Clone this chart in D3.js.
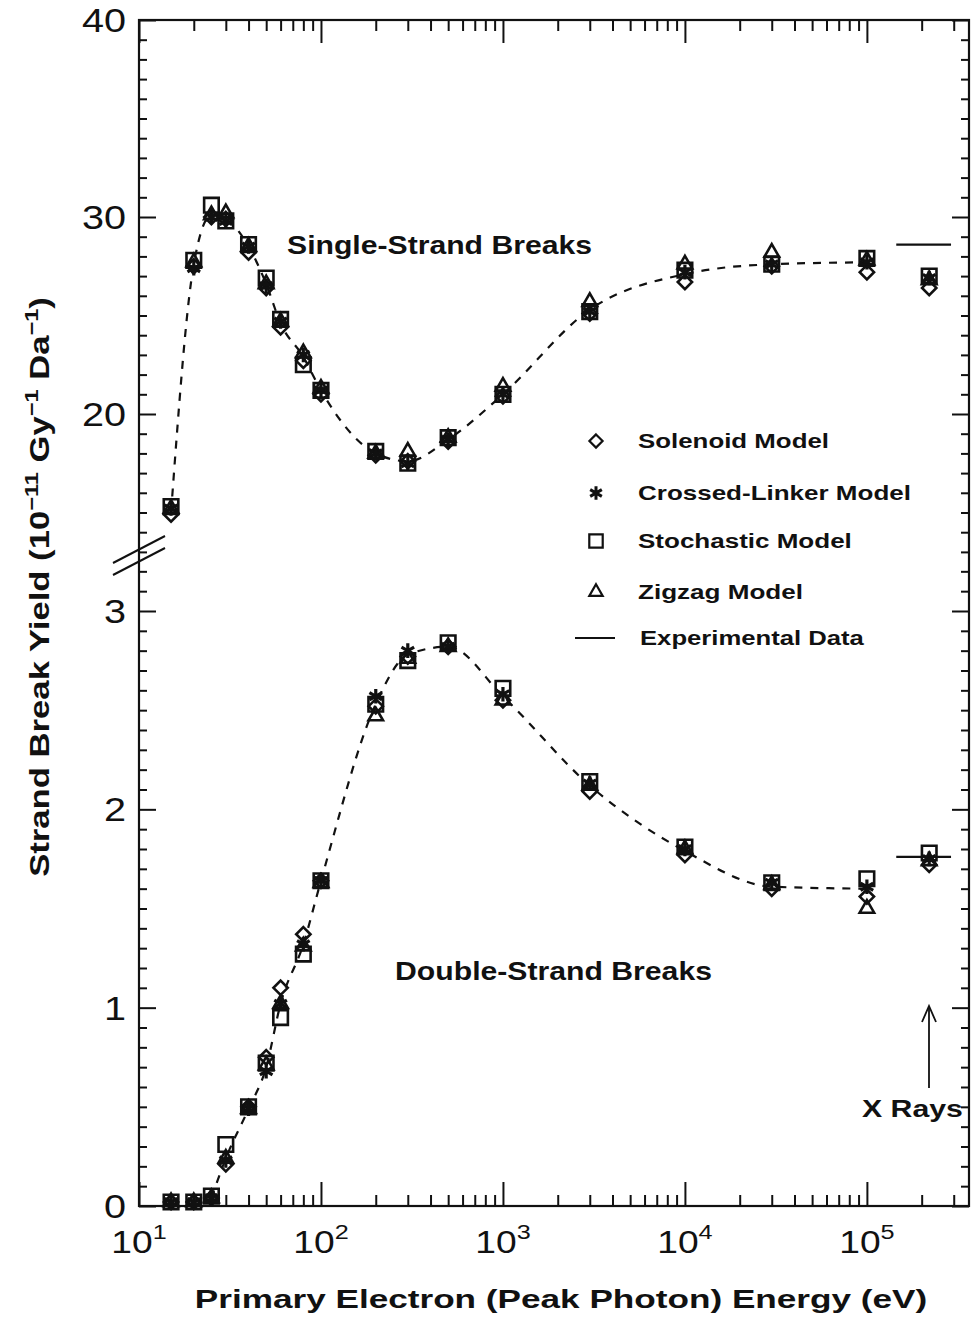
<!DOCTYPE html>
<html>
<head>
<meta charset="utf-8">
<script src="https://cdn.jsdelivr.net/npm/d3@7"></script>
<style>
  html, body { margin: 0; padding: 0; background: #fff; }
  svg text { font-family: "Liberation Sans", Arial, Helvetica, sans-serif; fill: #111; }
</style>
</head>
<body>
<div id="diagram"></div>
<script>
// - - - - - - - - - -
// data
const energies = [15, 20, 25, 30, 40, 50, 60, 80, 100, 200, 300, 500, 1000, 3000, 1e4, 3e4, 1e5, 2.2e5];

// single-strand breaks, 10^-11 Gy^-1 Da^-1
const ssbSolenoid   = [14.9, 27.5, 30.0, 29.9, 28.2, 26.4, 24.4, 22.7, 21.0, 17.9, 17.6, 18.6, 20.9, 25.1, 26.7, 27.5, 27.2, 26.4];
const ssbCrossed    = [15.2, 27.4, 30.0, 29.8, 28.5, 26.5, 24.7, 23.0, 21.2, 18.0, 17.5, 18.7, 21.0, 25.2, 27.2, 27.6, 27.7, 26.9];
const ssbStochastic = [15.3, 27.8, 30.6, 29.8, 28.6, 26.9, 24.8, 22.5, 21.2, 18.1, 17.5, 18.8, 21.0, 25.2, 27.3, 27.6, 27.9, 27.0];
const ssbZigzag     = [15.2, 27.7, 30.1, 30.2, 28.5, 26.6, 24.7, 23.1, 21.3, 18.0, 18.1, 18.8, 21.4, 25.7, 27.6, 28.2, 27.8, 26.8];

// double-strand breaks
const dsbSolenoid   = [0.02, 0.02, 0.04, 0.21, 0.50, 0.75, 1.10, 1.37, 1.64, 2.52, 2.77, 2.82, 2.55, 2.09, 1.77, 1.60, 1.56, 1.72];
const dsbCrossed    = [0.02, 0.02, 0.04, 0.23, 0.49, 0.68, 1.02, 1.32, 1.64, 2.57, 2.80, 2.82, 2.58, 2.13, 1.80, 1.63, 1.61, 1.75];
const dsbStochastic = [0.02, 0.02, 0.05, 0.31, 0.50, 0.72, 0.95, 1.27, 1.64, 2.53, 2.75, 2.84, 2.61, 2.14, 1.81, 1.63, 1.65, 1.78];
const dsbZigzag     = [0.02, 0.02, 0.04, 0.24, 0.49, 0.71, 1.02, 1.31, 1.63, 2.47, 2.76, 2.82, 2.55, 2.12, 1.80, 1.62, 1.50, 1.74];

// dashed guide curves
const ssbCurveE = [15, 20, 25, 30, 40, 50, 60, 80, 100, 200, 300, 500, 1000, 3000, 1e4, 3e4, 1e5];
const ssbCurveV = [15.0, 27.6, 30.1, 29.9, 28.5, 26.6, 24.6, 22.9, 21.2, 18.0, 17.6, 18.7, 21.0, 25.3, 27.1, 27.6, 27.7];
const dsbCurveE = [25, 30, 40, 50, 60, 80, 100, 200, 300, 500, 1000, 3000, 1e4, 3e4, 1e5];
const dsbCurveV = [0.04, 0.24, 0.49, 0.70, 1.02, 1.32, 1.64, 2.53, 2.78, 2.82, 2.57, 2.12, 1.79, 1.61, 1.60];

// experimental (x rays)
const expRange = [1.45e5, 2.9e5];
const ssbExp = 28.6;
const dsbExp = 1.76;

const models = ['Solenoid Model', 'Crossed-Linker Model', 'Stochastic Model', 'Zigzag Model'];

// axis ticks
const xMajorTicks = [1e1, 1e2, 1e3, 1e4, 1e5];
const xTickExp = ['1', '2', '3', '4', '5'];
const yUpperMajor = [20, 30, 40];
const yLowerMajor = [0, 1, 2, 3];

!(function () {
  'use strict'
  let
    canvas = { width: 971, height: 1319 },
    plot = { left: 139, right: 969, top: 20, bottom: 1206, mid: 611 },
    svg, xScale, yUpper, yLower, symbolTypes, symbolSizes, stretch;

  svg = d3.select('#diagram').append('svg')
    .attr('width', canvas.width)
    .attr('height', canvas.height);

  xScale = d3.scaleLog().domain([10, 3.64e5]).range([plot.left, plot.right]);
  yUpper = d3.scaleLinear().domain([10, 40]).range([plot.mid, plot.top]);
  yLower = d3.scaleLinear().domain([0, 3]).range([plot.bottom, plot.mid]);

  // the scanned lettering is wider than Arial: stretch a text to a given width
  stretch = function (sel, x, y, width, rot) {
    const s = width / sel.node().getComputedTextLength();
    sel.attr('transform', 'translate(' + x + ',' + y + ')' + (rot ? ' rotate(' + rot + ')' : '') + ' scale(' + s + ',1)');
  };

  // minor log ticks
  let xMinor = [];
  for (let p = 1; p <= 5; p++) {
    for (let k = 2; k <= 9; k++) {
      const v = k * Math.pow(10, p);
      if (v <= xScale.domain()[1]) xMinor.push(v);
    }
  }
  let yUpperMinor = d3.range(13, 41).filter(v => yUpperMajor.indexOf(v) < 0);
  let yLowerMinor = d3.range(0, 33).map(v => v / 10).filter(v => Math.abs(v - Math.round(v)) > 1e-6);

  const noDomain = g => { g.select('.domain').remove(); g.selectAll('text').remove(); g.selectAll('line').attr('stroke', '#111').attr('stroke-width', 2); };

  // bottom / top ticks (pointing inward)
  svg.append('g').attr('transform', 'translate(0,' + plot.bottom + ')')
    .call(d3.axisTop(xScale).tickValues(xMinor).tickSize(11)).call(noDomain);
  svg.append('g').attr('transform', 'translate(0,' + plot.bottom + ')')
    .call(d3.axisTop(xScale).tickValues(xMajorTicks).tickSize(24)).call(noDomain);
  svg.append('g').attr('transform', 'translate(0,' + plot.top + ')')
    .call(d3.axisBottom(xScale).tickValues(xMinor).tickSize(11)).call(noDomain);
  svg.append('g').attr('transform', 'translate(0,' + plot.top + ')')
    .call(d3.axisBottom(xScale).tickValues(xMajorTicks).tickSize(23)).call(noDomain);

  // left / right ticks
  [[d3.axisRight, plot.left], [d3.axisLeft, plot.right]].forEach(function (a) {
    svg.append('g').attr('transform', 'translate(' + a[1] + ',0)')
      .call(a[0](yUpper).tickValues(yUpperMinor).tickSize(8)).call(noDomain);
    svg.append('g').attr('transform', 'translate(' + a[1] + ',0)')
      .call(a[0](yUpper).tickValues(yUpperMajor).tickSize(17)).call(noDomain);
    svg.append('g').attr('transform', 'translate(' + a[1] + ',0)')
      .call(a[0](yLower).tickValues(yLowerMinor).tickSize(8)).call(noDomain);
    svg.append('g').attr('transform', 'translate(' + a[1] + ',0)')
      .call(a[0](yLower).tickValues(yLowerMajor).tickSize(17)).call(noDomain);
  });

  // frame
  svg.append('rect')
    .attr('x', plot.left).attr('y', plot.top)
    .attr('width', plot.right - plot.left).attr('height', plot.bottom - plot.top)
    .attr('fill', 'none').attr('stroke', '#111').attr('stroke-width', 2.2);

  // axis break marks
  [0, 12].forEach(function (d) {
    svg.append('line')
      .attr('x1', 113).attr('y1', 563 + d).attr('x2', 165).attr('y2', 536 + d)
      .attr('stroke', '#111').attr('stroke-width', 2);
  });

  // tick labels
  const yLab = svg.append('g').attr('font-size', 33).attr('text-anchor', 'end');
  yUpperMajor.forEach(function (v) {
    yLab.append('text').attr('transform', 'translate(126,' + yUpper(v) + ') scale(1.2,1)').attr('dy', '0.36em').text(v);
  });
  yLowerMajor.forEach(function (v) {
    yLab.append('text').attr('transform', 'translate(126,' + yLower(v) + ') scale(1.2,1)').attr('dy', '0.36em').text(v);
  });
  const xLab = svg.append('g').attr('font-size', 31).attr('text-anchor', 'middle');
  xMajorTicks.forEach(function (v, i) {
    const t = xLab.append('text').attr('transform', 'translate(' + xScale(v) + ',1253) scale(1.2,1)');
    t.append('tspan').text('10');
    t.append('tspan').attr('font-size', 21).attr('dy', -14).text(xTickExp[i]);
  });

  // axis titles
  const xt = svg.append('text')
    .attr('text-anchor', 'middle').attr('font-size', 26).attr('font-weight', 'bold')
    .text('Primary Electron (Peak Photon) Energy (eV)');
  stretch(xt, 561, 1308, 733);

  const yt = svg.append('text')
    .attr('text-anchor', 'middle').attr('font-size', 28).attr('font-weight', 'bold');
  yt.append('tspan').text('Strand Break Yield (10');
  yt.append('tspan').attr('font-size', 19).attr('dy', -11).text('\u221211');
  yt.append('tspan').attr('dy', 11).text(' Gy');
  yt.append('tspan').attr('font-size', 19).attr('dy', -11).text('\u22121');
  yt.append('tspan').attr('dy', 11).text(' Da');
  yt.append('tspan').attr('font-size', 19).attr('dy', -11).text('\u22121');
  yt.append('tspan').attr('dy', 11).text(')');
  stretch(yt, 49, 587, 580, -90);

  // dashed curves
  const lineU = d3.line().x(d => xScale(d[0])).y(d => yUpper(d[1])).curve(d3.curveMonotoneX);
  const lineL = d3.line().x(d => xScale(d[0])).y(d => yLower(d[1])).curve(d3.curveMonotoneX);
  svg.append('path')
    .datum(d3.zip(ssbCurveE, ssbCurveV))
    .attr('d', lineU)
    .attr('fill', 'none').attr('stroke', '#111').attr('stroke-width', 2.2).attr('stroke-dasharray', '8,8');
  svg.append('path')
    .datum(d3.zip(dsbCurveE, dsbCurveV))
    .attr('d', lineL)
    .attr('fill', 'none').attr('stroke', '#111').attr('stroke-width', 2.2).attr('stroke-dasharray', '8,8');

  // experimental lines
  svg.append('line')
    .attr('x1', xScale(expRange[0])).attr('x2', xScale(expRange[1]))
    .attr('y1', yUpper(ssbExp)).attr('y2', yUpper(ssbExp))
    .attr('stroke', '#111').attr('stroke-width', 2.2);
  svg.append('line')
    .attr('x1', xScale(expRange[0])).attr('x2', xScale(expRange[1]))
    .attr('y1', yLower(dsbExp)).attr('y2', yLower(dsbExp))
    .attr('stroke', '#111').attr('stroke-width', 2.2);

  // markers
  symbolTypes = [d3.symbolDiamond2, d3.symbolAsterisk, d3.symbolSquare2, d3.symbolTriangle2];
  symbolSizes = [130, 150, 270, 150];
  const ssbSeries = [ssbSolenoid, ssbCrossed, ssbStochastic, ssbZigzag];
  const dsbSeries = [dsbSolenoid, dsbCrossed, dsbStochastic, dsbZigzag];

  [[ssbSeries, yUpper], [dsbSeries, yLower]].forEach(function (grp) {
    grp[0].forEach(function (vals, m) {
      svg.append('g').selectAll('path')
        .data(d3.zip(energies, vals))
        .join('path')
        .attr('transform', d => 'translate(' + xScale(d[0]) + ',' + grp[1](d[1]) + ')')
        .attr('d', d3.symbol().type(symbolTypes[m]).size(symbolSizes[m]))
        .attr('fill', 'none').attr('stroke', '#111')
        .attr('stroke-width', m === 1 ? 3.2 : 2.6);
    });
  });

  // panel labels
  const ssbLab = svg.append('text').attr('text-anchor', 'middle')
    .attr('font-size', 25).attr('font-weight', 'bold').text('Single-Strand Breaks');
  stretch(ssbLab, 439.5, 254, 305);
  const dsbLab = svg.append('text').attr('text-anchor', 'middle')
    .attr('font-size', 25).attr('font-weight', 'bold').text('Double-Strand Breaks');
  stretch(dsbLab, 553.5, 980, 317);

  // legend
  const legendY = [441, 493, 541, 592, 638];
  const legendW = [191, 273, 214, 165];
  const leg = svg.append('g');
  models.forEach(function (name, m) {
    leg.append('path')
      .attr('transform', 'translate(596,' + legendY[m] + ')')
      .attr('d', d3.symbol().type(symbolTypes[m]).size(symbolSizes[m] * 0.85))
      .attr('fill', 'none').attr('stroke', '#111').attr('stroke-width', m === 1 ? 3 : 2.2);
    const t = leg.append('text').attr('font-size', 20).attr('font-weight', 'bold').text(name);
    stretch(t, 638, legendY[m] + 7, legendW[m]);
  });
  leg.append('line').attr('x1', 575).attr('x2', 615)
    .attr('y1', legendY[4]).attr('y2', legendY[4])
    .attr('stroke', '#111').attr('stroke-width', 2.2);
  const expLab = leg.append('text').attr('font-size', 20).attr('font-weight', 'bold').text('Experimental Data');
  stretch(expLab, 640, legendY[4] + 7, 224);

  // x-ray annotation
  svg.append('line').attr('x1', 929).attr('x2', 929).attr('y1', 1088).attr('y2', 1007)
    .attr('stroke', '#111').attr('stroke-width', 1.8);
  svg.append('path').attr('d', 'M922,1022 L929,1006 L936,1022')
    .attr('fill', 'none').attr('stroke', '#111').attr('stroke-width', 1.8);
  const xr = svg.append('text').attr('font-size', 24).attr('font-weight', 'bold').text('X Rays');
  stretch(xr, 862, 1117, 101);
  // - - - - - - - - - -
}())
</script>
</body>
</html>
